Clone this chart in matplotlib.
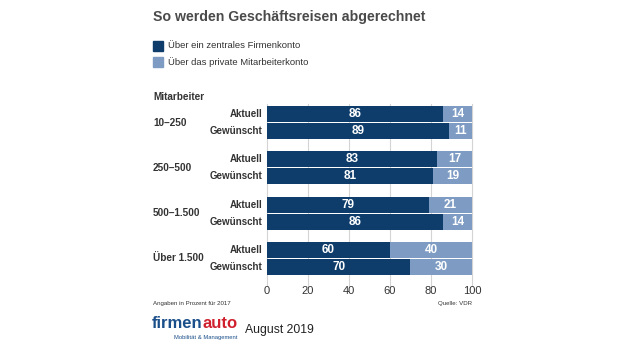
import matplotlib

matplotlib.use("Agg")
import matplotlib.pyplot as plt
from matplotlib.patches import Rectangle

plt.rcParams["font.family"] = ["Liberation Sans Narrow", "Liberation Sans", "DejaVu Sans"]

GROUPS = ["10–250", "250–500", "500–1.500", "Über 1.500"]
ROWS = ["Aktuell", "Gewünscht"]
FIRMA = [[86, 89], [83, 81], [79, 86], [60, 70]]
PRIVAT = [[14, 11], [17, 19], [21, 14], [40, 30]]
TICKS = [0, 20, 40, 60, 80, 100]

DARK = "#0e3d6b"
LIGHT = "#7d9bc3"
TXT = "#333333"

W, H = 620, 349
fig = plt.figure(figsize=(W / 100, H / 100), dpi=100)


def fx(px):
    return px / W


def fy(py):
    return 1 - py / H


# axes spans pixel x 267..472, y 104..279 ; data y in pixels (inverted)
ax = fig.add_axes([fx(267), fy(279), fx(472) - fx(267), fy(104) - fy(279)])
ax.set_xlim(0, 100)
ax.set_ylim(279, 104)
for s in ax.spines.values():
    s.set_visible(False)
for t in TICKS:
    ax.axvline(t, color="#d4d4d4", lw=0.8, zorder=0, ymin=-0.04, clip_on=False)

bar_h = 16
for g, name in enumerate(GROUPS):
    base = 114 + g * 45.3
    for k, row in enumerate(ROWS):
        y = base + k * 17
        a, b = FIRMA[g][k], PRIVAT[g][k]
        ax.barh(y, a, height=bar_h, color=DARK, zorder=2)
        ax.barh(y, b, left=a, height=bar_h, color=LIGHT, zorder=2)
        ax.text(a / 2, y, str(a), color="white", fontsize=8.5, fontweight="bold",
                ha="center", va="center", zorder=3)
        ax.text(a + b / 2, y, str(b), color="white", fontsize=8.5, fontweight="bold",
                ha="center", va="center", zorder=3)
        fig.text(fx(262), fy(y), row, fontsize=7, fontweight="bold", color=TXT,
                 ha="right", va="center")
    fig.text(fx(153), fy(base + 8.5), name, fontsize=7.2, fontweight="bold",
             color=TXT, ha="left", va="center")

ax.set_yticks([])
ax.set_xticks(TICKS)
ax.tick_params(axis="x", length=0, pad=5, labelsize=8, labelcolor=TXT)

fig.text(fx(153), fy(17), "So werden Geschäftsreisen abgerechnet", fontsize=10.2,
         fontweight="bold", color="#4a4a4a", ha="left", va="center")
for i, (lab, c) in enumerate([("Über ein zentrales Firmenkonto", DARK),
                              ("Über das private Mitarbeiterkonto", LIGHT)]):
    y = 46 + i * 16
    fig.patches.append(Rectangle((fx(153), fy(y + 5)), fx(10), 10 / H, color=c,
                                 transform=fig.transFigure, figure=fig))
    fig.text(fx(168), fy(y), lab, fontsize=6.8, color=TXT, ha="left", va="center")

fig.text(fx(153), fy(97), "Mitarbeiter", fontsize=7.2, fontweight="bold", color=TXT,
         ha="left", va="center")
fig.text(fx(153), fy(304), "Angaben in Prozent für 2017", fontsize=4.4, color=TXT,
         ha="left", va="center")
fig.text(fx(472), fy(304), "Quelle: VDR", fontsize=4.4, color=TXT, ha="right",
         va="center")

# logo
renderer = fig.canvas.get_renderer()
t1 = fig.text(fx(152), fy(324), "firmen", fontsize=12, fontweight="bold",
              color="#1b4f8a", ha="left", va="center",
              family=["Liberation Sans", "DejaVu Sans"])
bb = t1.get_window_extent(renderer)
fig.text(bb.x1 / W, fy(324), "auto", fontsize=12, fontweight="bold",
         color="#d0202e", ha="left", va="center",
         family=["Liberation Sans", "DejaVu Sans"])
fig.text(fx(237), fy(337.5), "Mobilität & Management", fontsize=4.2, color="#1b4f8a",
         ha="right", va="center", family=["Liberation Sans", "DejaVu Sans"])
fig.text(fx(245), fy(330), "August 2019", fontsize=8.8, color="#222222", ha="left",
         va="center", family=["Liberation Sans", "DejaVu Sans"])

fig.savefig("out.png", dpi=100, facecolor="white")
